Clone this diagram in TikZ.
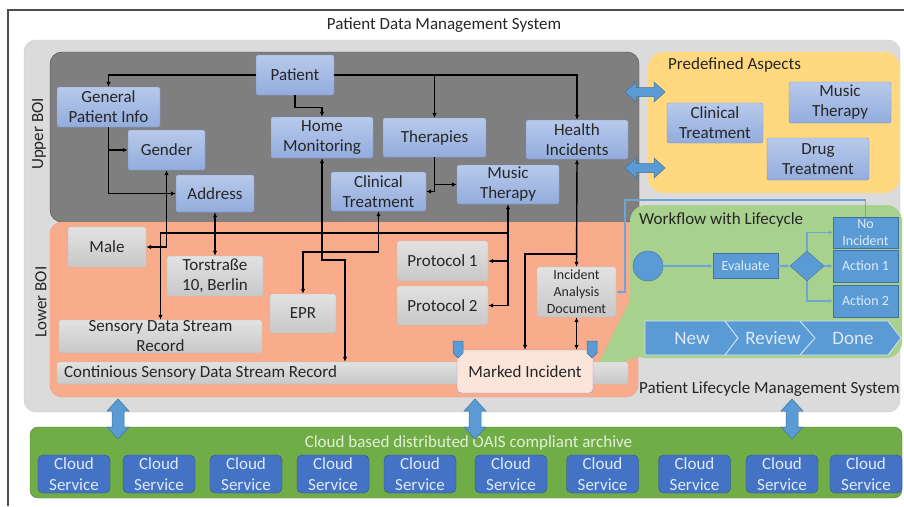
\documentclass[tikz,border=0pt]{standalone}
\usepackage{fontspec}
\setmainfont{Carlito}
\usetikzlibrary{arrows.meta,shapes.geometric,calc}
\definecolor{frame}{RGB}{77,77,77}
\definecolor{gpF}{RGB}{219,219,219}
\definecolor{gpB}{RGB}{200,200,200}
\definecolor{upF}{RGB}{127,127,127}
\definecolor{upD}{RGB}{70,70,70}
\definecolor{orF}{RGB}{248,172,140}
\definecolor{orD}{RGB}{242,155,120}
\definecolor{yeF}{RGB}{255,216,128}
\definecolor{grF}{RGB}{169,209,142}
\definecolor{clF}{RGB}{112,173,71}
\definecolor{clD}{RGB}{84,130,53}
\definecolor{csF}{RGB}{68,114,196}
\definecolor{csD}{RGB}{47,82,143}
\definecolor{csT}{RGB}{222,235,247}
\definecolor{claT}{RGB}{226,240,217}
\definecolor{wfF}{RGB}{91,155,213}
\definecolor{wfD}{RGB}{65,113,156}
\definecolor{wfL}{RGB}{110,165,215}
\definecolor{chB}{RGB}{210,228,245}
\definecolor{bnT}{RGB}{184,202,235}
\definecolor{bnB}{RGB}{146,172,221}
\definecolor{bnD}{RGB}{122,150,205}
\definecolor{gnT}{RGB}{226,226,226}
\definecolor{gnB}{RGB}{200,200,200}
\definecolor{gnD}{RGB}{188,188,188}
\definecolor{miF}{RGB}{251,228,218}
\definecolor{miD}{RGB}{130,152,202}
\definecolor{txt}{RGB}{38,38,38}
\begin{document}
\begin{tikzpicture}[x=1pt,y=-1pt,
  fnt/.style={font=\fontsize{17}{20}\selectfont},
  lbl/.style={fnt, text=txt, inner sep=0pt},
  wh/.style 2 args={minimum width=#1pt, minimum height=#2pt},
  upbox/.style={draw=bnD, top color=bnT, bottom color=bnB, rounded corners=2pt, align=center, text=txt, inner sep=0pt, fnt},
  lowbox/.style={draw=gnD, top color=gnT, bottom color=gnB, rounded corners=2pt, align=center, text=txt, inner sep=0pt, fnt},
  wfbox/.style={draw=wfD, fill=wfF, text=csT, align=center, inner sep=0pt, font=\fontsize{14}{17}\selectfont},
  cloudbox/.style={draw=csD, fill=csF, text=csT, rounded corners=5pt, align=center, inner sep=0pt, font=\fontsize{17}{21}\selectfont},
  chev/.style={fill=wfF, draw=chB, line width=0.8pt},
  chevtxt/.style={text=csT, inner sep=0pt, font=\fontsize{19}{22}\selectfont},
  blockarrow/.style={fill=wfF, draw=wfD, line width=0.5pt},
  conn/.style={draw=black, line width=1.4pt, -{Latex[length=5pt,width=4.5pt]}},
  conn2/.style={draw=black, line width=1.4pt, {Latex[length=5pt,width=4.5pt]}-{Latex[length=5pt,width=4.5pt]}},
  wfc/.style={draw=wfL, line width=1.1pt, -{Latex[length=4pt,width=4pt]}},
  tab/.style={fill=wfF, draw=wfD, line width=0.5pt}
]
\useasboundingbox (0,0) rectangle (904,506);
\fill[white] (0,0) rectangle (904,506);
% outer frame
\draw[frame, line width=1.2pt] (8,506) -- (8,10) -- (904,10);
\node[lbl] (title) at (444,25) {Patient Data Management System};

% panels
\draw[gpB, fill=gpF, rounded corners=12pt] (24,40) rectangle (900,412);
\draw[upD, fill=upF, rounded corners=12pt] (50,52) rectangle (639,222);
\draw[orD, fill=orF, rounded corners=12pt] (50,222) rectangle (638,397);
\fill[yeF, rounded corners=16pt] (648,52) rectangle (900,193);
% workflow callout
\fill[grF] (632,296) -- (594,372) -- (652,352) -- cycle;
\fill[grF, rounded corners=16pt] (630,205) rectangle (902,358);
% cloud panel
\draw[clD, fill=clF, rounded corners=8pt] (30,427) rectangle (902,498);

% panel labels
\node[lbl, rotate=90] (upl) at (39,134) {Upper BOI};
\node[lbl, rotate=90] (lowl) at (41,302) {Lower BOI};
\node[lbl, anchor=west] (pal) at (668,65) {Predefined Aspects};
\node[lbl, anchor=west] (wfl) at (639,220) {Workflow with Lifecycle};
\node[lbl, anchor=west] (plm) at (639,389) {Patient Lifecycle Management System};
\node[lbl, text=claT] (cla) at (468.5,443) {Cloud based distributed OAIS compliant archive};

% block arrows (horizontal)
\foreach \yy in {92,168}{
  \path[blockarrow] (625,\yy) -- ++(11,-10) -- ++(0,5.5) -- ++(18,0) -- ++(0,-5.5) -- ++(11,10) -- ++(-11,10) -- ++(0,-5.5) -- ++(-18,0) -- ++(0,5.5) -- cycle;
}
% block arrows (vertical)
\foreach \xx in {118,475,792}{
  \path[blockarrow] (\xx,399) -- ++(11,12) -- ++(-5,0) -- ++(0,16) -- ++(5,0) -- ++(-11,12) -- ++(-11,-12) -- ++(5,0) -- ++(0,-16) -- ++(-5,0) -- cycle;
}

% upper BOI nodes
\node[upbox, wh={78}{40}] (patient) at (295,75) {Patient};
\node[upbox, wh={103}{40}] (gpi) at (108.5,107) {General\\Patient Info};
\node[upbox, wh={77}{40}] (gender) at (166.5,150) {Gender};
\node[upbox, wh={78}{37}] (addr) at (215,193.5) {Address};
\node[upbox, wh={102}{41}] (hm) at (322,137.5) {Home\\Monitoring};
\node[upbox, wh={103}{39}] (ther) at (434.5,137.5) {Therapies};
\node[upbox, wh={102}{39}] (hi) at (577,139.5) {Health\\Incidents};
\node[upbox, wh={95}{39}] (ct) at (378.5,191.5) {Clinical\\Treatment};
\node[upbox, wh={102}{39}] (mt) at (508,184.5) {Music\\Therapy};

% predefined aspects nodes
\node[upbox, wh={96}{40}] (pct) at (715,123) {Clinical\\Treatment};
\node[upbox, wh={102}{41}] (pmt) at (840,102.5) {Music\\Therapy};
\node[upbox, wh={102}{42}] (pdt) at (818,159) {Drug\\Treatment};

% lower BOI nodes
\node[lowbox, wh={78}{40}] (male) at (107,247) {Male};
\node[lowbox, wh={96}{40}] (tors) at (215,276) {Torstraße\\10, Berlin};
\node[lowbox, wh={66}{39}] (epr) at (303,313.5) {EPR};
\node[lowbox, wh={203}{33}] (sdsr) at (160.5,336.5) {Sensory Data Stream\\Record};
\node[lowbox, wh={571}{22}] (csd) at (342.5,373) {\makebox[557pt][l]{Continious Sensory Data Stream Record}};
\node[lowbox, wh={91}{40}] (p1) at (442.5,261) {Protocol 1};
\node[lowbox, wh={91}{39}] (p2) at (442.5,305.5) {Protocol 2};
\node[lowbox, wh={79}{50}, font=\fontsize{14}{17}\selectfont] (iad) at (576.5,292) {Incident\\Analysis\\Document};
\node[draw=miD, fill=miF, rounded corners=4pt, wh={136}{43}, inner sep=0pt, fnt, text=txt] (mi) at (525,371.5) {Marked Incident};
\foreach \xx in {458,592}{
  \path[tab] ({\xx-5},341) -- ({\xx+5},341) -- ({\xx+5},353) -- (\xx,358) -- ({\xx-5},353) -- cycle;
}

% junctions
\coordinate (j233) at (508,233);
\coordinate (ctj) at (303,252);
\coordinate (hmj) at (345,260);
\coordinate (mij) at (525,254);
\coordinate (fb) at (625,200);

% connectors
\draw[conn] (patient.west) -| (gpi.north);
\draw[conn] (patient.south) -- ++(0,12) -| (hm.north);
\draw[conn] (patient.east) -| (hi.north);
\draw[conn] (patient.east -| ther.north) -- (ther.north);
\draw[conn] (gpi.south) |- (addr.west);
\draw[conn] (gpi.south |- gender.west) -- (gender.west);
\draw[conn2] (gender.south) |- (male.east);
\draw[conn2] (addr.south) -- (tors.north);
\draw[conn2] (mt.south) |- (p2.east);
\draw[conn] (mt.south |- p1.east) -- (p1.east);
\draw[conn] (j233) -| (sdsr.north);
\draw[conn2] (ct.south) |- (ctj) -- (epr.north);
\draw[conn2] (hm.south) |- (hmj) -- (hmj |- csd.north);
\draw[conn] (ther.south) |- (ct.east);
\draw[conn] (ther.south |- mt.west) -- (mt.west);
\draw[conn2] (hi.south) -- (iad.north);
\draw[conn] (hi.south |- mij) -- (mij) -- (mij |- mi.north);
\draw[conn2] (iad.south) -- (iad.south |- mi.north);

% workflow
\node[circle, fill=wfF, draw=wfD, minimum size=30pt, inner sep=0pt] (start) at (648,266) {};
\node[wfbox, wh={65}{25}] (eval) at (745.5,266) {Evaluate};
\node[diamond, fill=wfF, draw=wfD, minimum width=34pt, minimum height=30pt, inner sep=0pt] (dia) at (807,266) {};
\node[wfbox, wh={65}{31}] (noinc) at (865.5,232.5) {No\\Incident};
\node[wfbox, wh={65}{32}] (act1) at (865.5,266) {Action 1};
\node[wfbox, wh={65}{32}] (act2) at (865.5,301) {Action 2};
\draw[wfc] (start.east) -- (eval.west);
\draw[wfc] (eval.east) -- (dia.west);
\draw[wfc] (dia.north) |- (noinc.west);
\draw[wfc] (dia.east) -- (act1.west);
\draw[wfc] (dia.south) |- (act2.west);
\draw[wfc] (noinc.north) |- (fb) |- (iad.east);

% lifecycle chevrons
\path[chev] (645,321) -- (725,321) -- (738,338) -- (725,355) -- (645,355) -- cycle;
\path[chev] (725,321) -- (800,321) -- (815,338) -- (800,355) -- (725,355) -- (738,338) -- cycle;
\path[chev] (800,321) -- (888,321) -- (901,338) -- (888,355) -- (800,355) -- (815,338) -- cycle;
\node[chevtxt] (cnew) at (692,338) {New};
\node[chevtxt] (crev) at (773,338) {Review};
\node[chevtxt] (cdone) at (853,338) {Done};

% cloud services
\foreach \i/\xx in {1/74,2/159,3/246,4/333,5/420,6/511,7/602.5,8/694.5,9/782,10/866}{
  \node[cloudbox, wh={72}{38}] (cs\i) at (\xx,474) {Cloud\\Service};
}
\end{tikzpicture}
\end{document}
